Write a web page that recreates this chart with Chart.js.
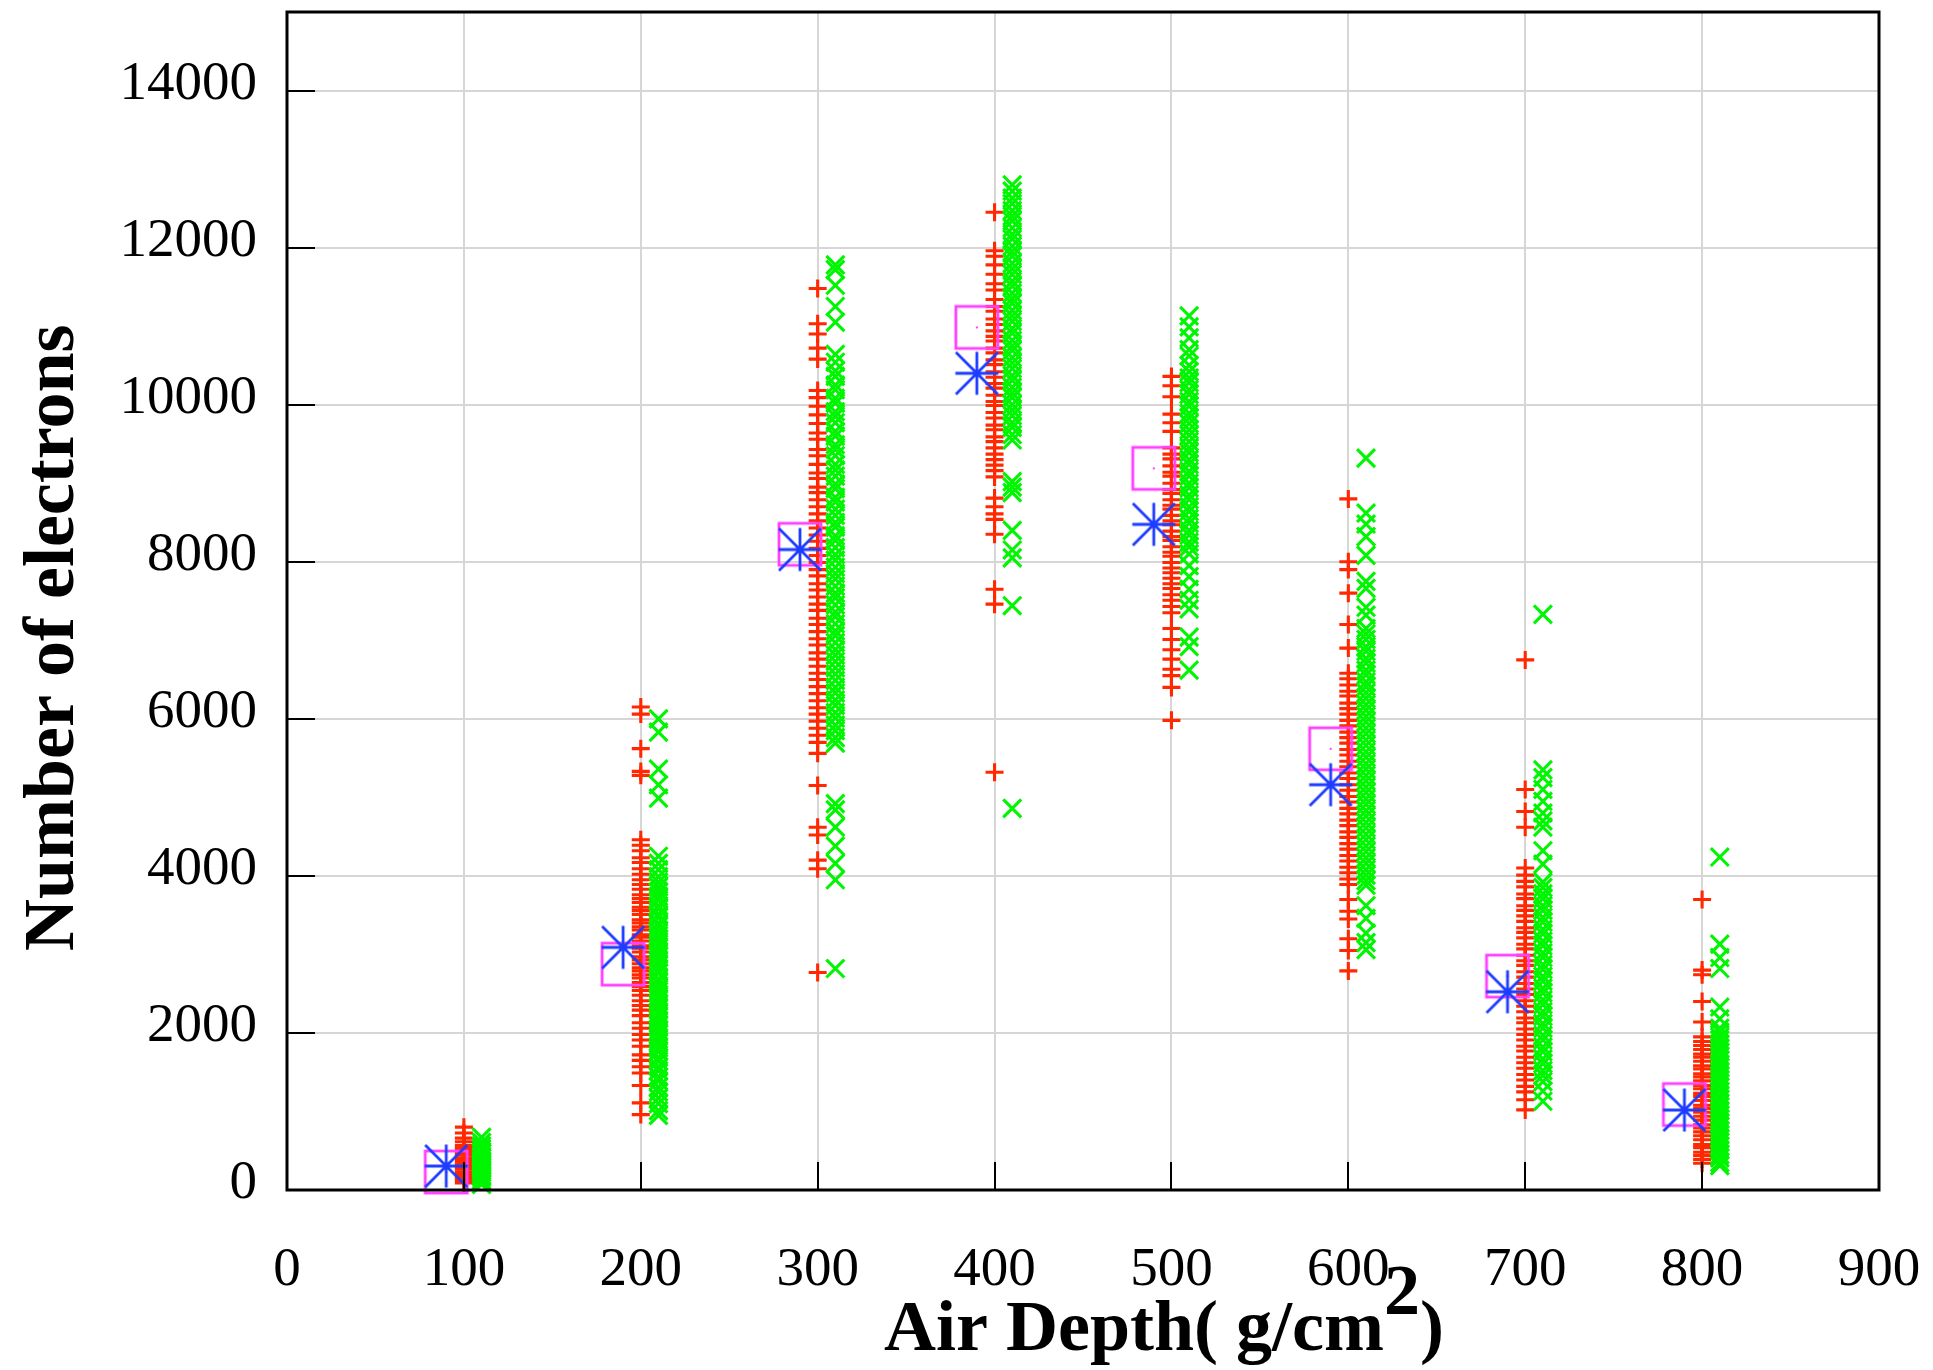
<!DOCTYPE html>
<html><head><meta charset="utf-8">
<script src="https://cdn.jsdelivr.net/npm/chart.js@4.4.1/dist/chart.umd.min.js"></script>
<style>html,body{margin:0;padding:0;background:#fff;}canvas{display:block;}</style>
</head><body>
<canvas id="c" width="1933" height="1370"></canvas>
<script>
const xTicks = [0,100,200,300,400,500,600,700,800,900];
const yTicks = [0,2000,4000,6000,8000,10000,12000,14000];
const redX = [100,200,300,400,500,600,700,800];
const greenX = [110,210,310,410,510,610,710,810];
const meanX = [90,190,290,390,490,590,690,790];

const red_100 = [800,725,660,615,565,530,505,470,445,410,385,350,325,290,265,230,205,170,145,115,90];
const red_200 = [6150,6060,5620,5330,5280,4460,4390,4320,4230,4170,4090,4020,3950,3890,3830,3760,3710,3660,3600,3560,3510,3440,3400,3350,3310,3250,3220,3170,3110,3080,3030,2970,2930,2880,2830,2790,2740,2700,2640,2590,2540,2480,2410,2350,2290,2220,2130,2060,1980,1910,1830,1720,1650,1570,1490,1330,1110,960];
const red_300 = [11480,11030,10900,10720,10580,10180,10090,9980,9870,9760,9640,9560,9430,9350,9240,9130,9060,8950,8880,8790,8700,8610,8520,8430,8340,8260,8170,8080,7990,7900,7820,7720,7640,7550,7460,7380,7280,7200,7110,7020,6940,6840,6760,6670,6580,6500,6410,6320,6230,6140,6060,5970,5880,5790,5700,5560,5150,4620,4520,4200,4090,2770];
const red_400 = [12450,11960,11890,11780,11660,11540,11460,11340,11250,11190,11090,11020,10940,10870,10810,10720,10660,10570,10510,10420,10350,10270,10210,10120,10040,9990,9900,9830,9740,9680,9590,9530,9450,9370,9300,9230,9160,9080,8810,8700,8610,8540,8350,7650,7460,5320];
const red_500 = [10360,10240,10100,9880,9770,9660,9450,9370,9310,9220,9140,9090,9000,8920,8870,8790,8720,8670,8590,8520,8470,8390,8320,8270,8190,8120,8070,7990,7920,7860,7790,7720,7660,7580,7510,7430,7350,7150,7010,6880,6760,6630,6550,6400,5980];
const red_600 = [8800,8000,7900,7600,7200,6900,6580,6510,6430,6350,6290,6200,6130,6060,5980,5910,5830,5760,5690,5610,5540,5460,5390,5310,5240,5160,5090,5010,4940,4860,4790,4710,4640,4560,4490,4410,4340,4260,4190,4110,4040,3960,3890,3700,3550,3450,3200,3050,2790];
const red_700 = [6750,5100,4820,4620,4100,4010,3930,3860,3770,3710,3620,3560,3490,3420,3340,3280,3210,3130,3070,2990,2920,2860,2780,2710,2630,2560,2490,2410,2340,2270,2190,2130,2050,1980,1910,1830,1770,1690,1620,1550,1470,1400,1320,1250,1150,1020];
const red_800 = [3700,2800,2740,2400,2140,1950,1890,1840,1790,1730,1690,1640,1580,1540,1480,1440,1390,1330,1290,1230,1190,1140,1080,1040,990,940,890,830,790,740,690,640,580,540,480,440,390,340];

const green_100 = [670,605,560,525,490,465,430,405,370,345,310,285,250,225,190,165,130,105,70];
const green_200 = [6000,5830,5360,5160,4990,4250,4160,4080,3990,3920,3860,3800,3740,3690,3620,3580,3510,3470,3400,3360,3300,3240,3190,3130,3080,3020,2970,2910,2860,2800,2760,2690,2640,2580,2530,2470,2420,2360,2310,2250,2200,2140,2090,2030,1980,1920,1870,1810,1760,1690,1640,1570,1520,1440,1390,1310,1250,1170,1100,1010,950];
const green_300 = [11780,11720,11520,11250,11050,10640,10540,10430,10360,10250,10190,10080,10020,9910,9850,9770,9660,9600,9490,9430,9350,9240,9170,9090,8990,8930,8820,8760,8670,8590,8500,8440,8330,8270,8180,8090,8020,7930,7850,7780,7690,7600,7540,7450,7360,7300,7210,7120,7060,6970,6880,6810,6730,6650,6570,6490,6400,6330,6240,6170,6080,6010,5920,5850,5760,5690,4920,4840,4620,4380,4160,3950,2820];
const green_400 = [12800,12720,12630,12560,12470,12400,12340,12250,12170,12110,12020,11950,11890,11800,11730,11660,11570,11510,11420,11350,11290,11200,11130,11060,10970,10910,10820,10750,10690,10600,10530,10460,10370,10310,10220,10150,10090,10000,9930,9860,9770,9710,9620,9550,9020,8950,8880,8400,8150,8050,7440,4860];
const green_500 = [11130,10990,10850,10700,10620,10500,10420,10340,10280,10190,10130,10040,9980,9890,9830,9760,9680,9610,9530,9450,9390,9300,9240,9150,9090,9000,8940,8850,8790,8700,8640,8550,8490,8400,8340,8250,8190,8100,7950,7810,7650,7510,7400,7040,6920,6620];
const green_600 = [9320,8620,8480,8320,8080,7750,7660,7420,7320,7150,7080,7010,6920,6860,6770,6710,6620,6560,6470,6410,6330,6260,6180,6110,6030,5960,5880,5810,5730,5660,5580,5510,5430,5360,5280,5210,5130,5060,4980,4910,4830,4760,4680,4610,4530,4460,4380,4310,4230,4160,4080,4010,3940,3880,3620,3460,3270,3150,3060];
const green_700 = [7330,5350,5250,5100,4950,4800,4700,4620,4320,4150,3920,3850,3770,3710,3620,3560,3470,3410,3320,3260,3170,3110,3020,2960,2870,2810,2720,2660,2570,2510,2420,2360,2270,2210,2120,2060,1970,1910,1820,1760,1670,1610,1520,1460,1380,1260,1130];
const green_800 = [4240,3130,2960,2820,2330,2180,2060,2010,1950,1910,1850,1800,1760,1700,1660,1600,1560,1510,1450,1410,1350,1310,1260,1200,1160,1100,1060,1010,950,910,850,810,760,700,660,610,560,510,450,410,350,310];

const blueVals = [305,3090,8155,10400,8476,5161,2524,1018];
const magentaVals = [229,2876,8222,10984,9189,5618,2724,1088];

const redLists = [red_100,red_200,red_300,red_400,red_500,red_600,red_700,red_800];
const greenLists = [green_100,green_200,green_300,green_400,green_500,green_600,green_700,green_800];

const RED = 'rgb(255,40,0)';
const GREEN = 'rgb(0,245,0)';
const BLUE = 'rgb(30,60,255)';
const MAGENTA = 'rgb(255,64,255)';

function makeStar(){
  const c = document.createElement('canvas'); c.width = 46; c.height = 46;
  const g = c.getContext('2d');
  g.strokeStyle = BLUE; g.lineWidth = 2.8; g.lineCap = 'butt';
  g.beginPath();
  g.moveTo(1.5,23); g.lineTo(44.5,23);
  g.moveTo(23,1.5); g.lineTo(23,44.5);
  g.moveTo(2,2); g.lineTo(44,44);
  g.moveTo(44,2); g.lineTo(2,44);
  g.stroke();
  return c;
}
function makeBox(){
  const c = document.createElement('canvas'); c.width = 48; c.height = 48;
  const g = c.getContext('2d');
  g.strokeStyle = MAGENTA; g.lineWidth = 2.8;
  g.strokeRect(3,3,42,42);
  g.fillStyle = MAGENTA; g.fillRect(23,23,2,2);
  return c;
}

const redPts = redX.flatMap((x,i)=>redLists[i].map(v=>({x:x,y:v})));
const greenPts = greenX.flatMap((x,i)=>greenLists[i].map(v=>({x:x,y:v})));
const bluePts = meanX.map((x,i)=>({x:x,y:blueVals[i]}));
const magPts = meanX.map((x,i)=>({x:x,y:magentaVals[i]}));

const decor = {
  id:'decor',
  afterDatasetsDraw(chart){
    const {ctx, chartArea:a, scales} = chart;
    const sx = scales.x, sy = scales.y;
    ctx.save();
    ctx.strokeStyle = '#000'; ctx.lineWidth = 2;
    ctx.beginPath();
    xTicks.forEach(v=>{const p = Math.round(sx.getPixelForValue(v)); ctx.moveTo(p,a.bottom); ctx.lineTo(p,a.bottom-28);});
    yTicks.forEach(v=>{const p = Math.round(sy.getPixelForValue(v)); ctx.moveTo(a.left,p); ctx.lineTo(a.left+28,p);});
    ctx.stroke();
    ctx.lineWidth = 3;
    ctx.strokeRect(a.left,a.top,a.right-a.left,a.bottom-a.top);
    ctx.fillStyle = '#000';
    ctx.font = "bold 72px 'Liberation Serif'";
    ctx.textBaseline = 'alphabetic';
    ctx.textAlign = 'left';
    const main = 'Air Depth( g/cm';
    let x0 = 884, base = 1350;
    ctx.fillText(main, x0, base);
    x0 += ctx.measureText(main).width;
    ctx.fillText('2', x0, base-36);
    x0 += ctx.measureText('2').width;
    ctx.fillText(')', x0, base);
    ctx.translate(73, 951);
    ctx.rotate(-Math.PI/2);
    ctx.fillText('Number of electrons', 0, 0);
    ctx.restore();
  }
};

function zeroPad(s){ s.paddingTop = 0; s.paddingBottom = 0; s.paddingLeft = 0; s.paddingRight = 0; }

new Chart(document.getElementById('c'), {
  type:'scatter',
  data:{datasets:[
    {label:'mean2', data:bluePts, pointStyle:makeStar(), pointRadius:23, showLine:false, clip:false},
    {label:'mean1', data:magPts, pointStyle:makeBox(), pointRadius:24, showLine:false, clip:false},
    {label:'green', data:greenPts, pointStyle:'crossRot', pointRadius:12.7, borderColor:GREEN, backgroundColor:GREEN, pointBorderWidth:3.1, borderWidth:3.1, showLine:false, clip:false},
    {label:'red', data:redPts, pointStyle:'cross', pointRadius:9, borderColor:RED, backgroundColor:RED, pointBorderWidth:3.1, borderWidth:3.1, showLine:false, clip:false}
  ]},
  options:{
    responsive:false, animation:false, devicePixelRatio:1,
    layout:{autoPadding:false, padding:{left:0,right:54,top:12,bottom:0}},
    plugins:{legend:{display:false}, tooltip:{enabled:false}},
    elements:{point:{hoverRadius:0}},
    scales:{
      x:{type:'linear', min:0, max:900,
        afterBuildTicks:s=>{s.ticks = xTicks.map(v=>({value:v}));},
        afterFit:s=>{s.height = 180; zeroPad(s);},
        grid:{color:'#d6d6d6', lineWidth:2, drawTicks:false},
        border:{display:false},
        ticks:{font:{family:"'Liberation Serif'", size:55}, color:'#000', padding:48, maxRotation:0, autoSkip:false, callback:v=>String(v)}
      },
      y:{type:'linear', min:0, max:15000,
        afterBuildTicks:s=>{s.ticks = yTicks.map(v=>({value:v}));},
        afterFit:s=>{s.width = 287; zeroPad(s);},
        grid:{color:'#d6d6d6', lineWidth:2, drawTicks:false},
        border:{display:false},
        ticks:{font:{family:"'Liberation Serif'", size:55}, color:'#000', padding:30, labelOffset:-6, autoSkip:false, callback:v=>String(v)}
      }
    }
  },
  plugins:[decor]
});
</script>
</body></html>
